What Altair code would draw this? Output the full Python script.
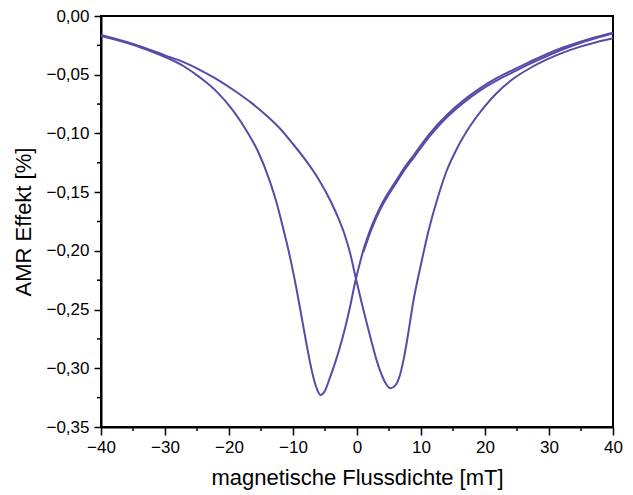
import altair as alt
import pandas as pd

# Sweep from -40 mT to +40 mT (minimum at positive field)
up_field = [-40, -35, -30, -27, -24.5, -22, -19.3, -16.5, -14.1, -12, -10, -8, -6, -4,
            -3, -2, -1, -0.3, 0.7, 1.5, 2.3, 3.0, 3.6, 4.3, 5.2, 6.0, 6.7, 7.3, 7.8,
            8.3, 8.8, 9.3, 9.8, 11.2, 12.6, 14.0, 15.6, 17.7, 19.8, 21.8, 24.4, 27.0,
            29.6, 32.2, 34.8, 37.4, 40]
up_amr = [-0.0162, -0.0238, -0.0335, -0.0395, -0.0460, -0.0535, -0.0630, -0.0740, -0.0850,
          -0.0960, -0.1090, -0.1230, -0.1390, -0.1590, -0.1710, -0.1850, -0.2035, -0.2205,
          -0.2435, -0.2610, -0.2780, -0.2920, -0.3020, -0.3110, -0.3170, -0.3145, -0.3060,
          -0.2920, -0.2770, -0.2600, -0.2430, -0.2290, -0.2164, -0.1825, -0.1550, -0.1320,
          -0.1130, -0.0935, -0.0780, -0.0658, -0.0535, -0.0445, -0.0372, -0.0312, -0.0263,
          -0.0223, -0.0190]

# Sweep from +40 mT to -40 mT (minimum at negative field)
down_field = [-40, -35, -32, -29.5, -27, -24.5, -22, -19.3, -17, -15.5, -13.6, -12.7, -11.8,
              -11.1, -10.5, -9.9, -9.4, -8.6, -7.9, -7.3, -6.8, -6.3, -5.7, -5.1, -4.2, -3.4,
              -2.7, -1.9, -1.1, -0.3, 0.4, 1.0, 2.3, 3.6, 4.9, 6.2, 7.5, 8.8, 11.4, 14.0,
              16.6, 19.2, 21.8, 24.4, 27.0, 29.6, 32.2, 34.8, 37.4, 40]
down_amr = [-0.0170, -0.0245, -0.0305, -0.0360, -0.0430, -0.0525, -0.0640, -0.0810, -0.1000,
            -0.1150, -0.1410, -0.1565, -0.1750, -0.1905, -0.2045, -0.2200, -0.2340, -0.2580,
            -0.2790, -0.2960, -0.3080, -0.3170, -0.3228, -0.3200, -0.3075, -0.2950, -0.2825,
            -0.2665, -0.2480, -0.2270, -0.2115, -0.1993, -0.1790, -0.1630, -0.1505, -0.1395,
            -0.1285, -0.1190, -0.1000, -0.0845, -0.0720, -0.0616, -0.0530, -0.0458, -0.0390,
            -0.0325, -0.0268, -0.0220, -0.0178, -0.0142]

# Second (partial) down sweep, slightly below the first one on the right side
down2_field = [1.0, 2.3, 3.6, 4.9, 6.2, 7.5, 8.8, 11.4, 14.0, 16.6, 19.2, 21.8, 24.4, 27.0,
               29.6, 32.2, 34.8, 37.4, 40]
down2_amr = [-0.2010, -0.1810, -0.1650, -0.1525, -0.1415, -0.1305, -0.1210, -0.1020, -0.0865,
             -0.0740, -0.0635, -0.0550, -0.0478, -0.0408, -0.0343, -0.0283, -0.0232, -0.0188,
             -0.0148]

x_major = [-40, -30, -20, -10, 0, 10, 20, 30, 40]
x_minor = [-35, -25, -15, -5, 5, 15, 25, 35]
y_major = [0.0, -0.05, -0.10, -0.15, -0.20, -0.25, -0.30, -0.35]
y_minor = [-0.025, -0.075, -0.125, -0.175, -0.225, -0.275, -0.325]

LINE_COLOR = "#564CA8"
W, H = 512, 411

rows = []
for name, fs, vs in [("up", up_field, up_amr), ("down", down_field, down_amr),
                     ("down2", down2_field, down2_amr)]:
    for b, v in zip(fs, vs):
        rows.append({"B": b, "AMR": v, "sweep": name})
df = pd.DataFrame(rows)

x_scale = alt.Scale(domain=[-40, 40], nice=False, zero=False)
y_scale = alt.Scale(domain=[-0.35, 0], nice=False, zero=False)

x_axis = alt.Axis(values=x_major, title="magnetische Flussdichte [mT]",
                  tickSize=8, labelPadding=4, titlePadding=12, labelFlush=False)
y_axis = alt.Axis(values=y_major, title="AMR Effekt [%]",
                  labelExpr="replace(format(datum.value, '.2f'), '.', ',')",
                  tickSize=7, labelPadding=5, titlePadding=10, labelFlush=False)

lines = alt.Chart(df).mark_line(color=LINE_COLOR, strokeWidth=2, interpolate="monotone").encode(
    x=alt.X("B:Q", scale=x_scale, axis=x_axis),
    y=alt.Y("AMR:Q", scale=y_scale, axis=y_axis),
    detail="sweep:N",
    order=alt.Order("B:Q"),
)

xminor_df = pd.DataFrame({"v": x_minor})
yminor_df = pd.DataFrame({"v": y_minor})

xminor = alt.Chart(xminor_df).mark_rule(color="black", strokeWidth=1.5).encode(
    x=alt.X("v:Q", scale=x_scale, axis=x_axis),
    y=alt.value(H), y2=alt.value(H + 4),
)
yminor = alt.Chart(yminor_df).mark_rule(color="black", strokeWidth=1.5).encode(
    y=alt.Y("v:Q", scale=y_scale, axis=y_axis),
    x=alt.value(-4), x2=alt.value(0),
)

chart = alt.layer(lines, xminor, yminor).properties(
    width=W, height=H,
    autosize=alt.AutoSizeParams(type="none"),
    padding={"left": 93, "top": 8, "right": 12, "bottom": 68},
).configure_view(
    stroke="black", strokeWidth=2
).configure_axis(
    grid=False, domainColor="black", domainWidth=2, tickColor="black", tickWidth=1.5,
    labelFont="Liberation Sans", labelFontSize=17, labelColor="black", labelFlush=False,
    titleFont="Liberation Sans", titleFontSize=22, titleFontWeight="normal", titleColor="black",
)

chart.save("out.html", embed_options={"renderer": "svg", "actions": False})
